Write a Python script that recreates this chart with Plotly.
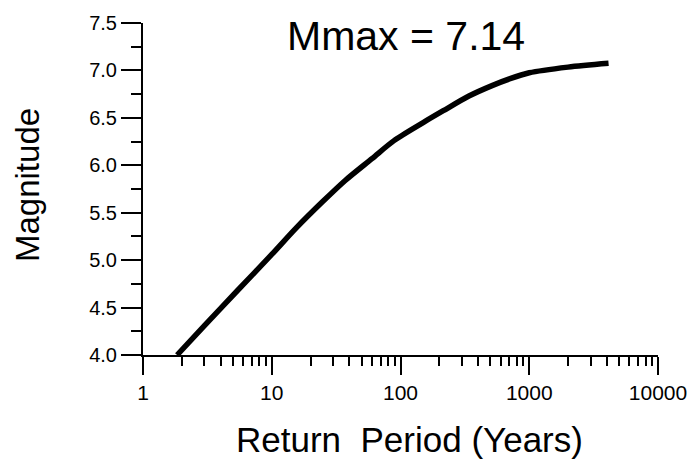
import plotly.graph_objects as go

# Data
return_period = [1.84, 3, 5.42, 10, 15.5, 25, 37.2, 60, 89, 150, 215, 340, 514, 700, 1000, 2000, 4130]
magnitude = [4.00, 4.31, 4.68, 5.06, 5.34, 5.62, 5.84, 6.07, 6.26, 6.45, 6.575, 6.73, 6.84, 6.91, 6.975, 7.035, 7.075]

x_tickvals = [1, 10, 100, 1000, 10000]
x_ticktext = ["1", "10", "100", "1000", "10000"]
y_tickvals = [4.0, 4.5, 5.0, 5.5, 6.0, 6.5, 7.0, 7.5]
y_ticktext = ["4.0", "4.5", "5.0", "5.5", "6.0", "6.5", "7.0", "7.5"]

title_text = "Mmax = 7.14"
x_title = "Return  Period (Years)"
y_title = "Magnitude"

W, H = 699, 469
L, R, T, B = 143, 30, 20, 114

fig = go.Figure()
fig.add_trace(go.Scatter(
    x=return_period, y=magnitude, mode="lines",
    line=dict(color="black", width=5.5, shape="spline", smoothing=0.8),
    showlegend=False, hoverinfo="skip",
))

font_main = "Liberation Sans, Arial, sans-serif"

fig.update_layout(
    width=W, height=H,
    margin=dict(l=L, r=R, t=T, b=B, pad=0),
    paper_bgcolor="white", plot_bgcolor="white",
    xaxis=dict(
        type="log", range=[0, 4],
        tickvals=x_tickvals, ticktext=x_ticktext,
        ticks="outside", ticklen=18, tickwidth=2, tickcolor="black",
        minor=dict(ticks="outside", ticklen=9, tickwidth=2, tickcolor="black", dtick="D1", showgrid=False),
        showline=True, linecolor="black", linewidth=2,
        showgrid=False, zeroline=False,
        ticklabeloverflow="allow",
        tickfont=dict(family=font_main, size=21, color="black"),
    ),
    yaxis=dict(
        range=[4.0, 7.5],
        tickvals=y_tickvals, ticktext=y_ticktext,
        ticks="outside", ticklen=20, tickwidth=2, tickcolor="black",
        minor=dict(ticks="outside", ticklen=10, tickwidth=2, tickcolor="black", dtick=0.25, showgrid=False),
        showline=True, linecolor="black", linewidth=2,
        showgrid=False, zeroline=False,
        tickfont=dict(family=font_main, size=20, color="black"),
    ),
    annotations=[
        dict(text=title_text, xref="paper", yref="paper",
             x=(412 - L) / (W - L - R), y=(H - B - 33) / (H - T - B),
             xanchor="center", yanchor="middle", showarrow=False,
             font=dict(family=font_main, size=41, color="black")),
        dict(text=y_title, xref="paper", yref="paper",
             x=(25 - L) / (W - L - R), y=(H - B - 183) / (H - T - B),
             xanchor="center", yanchor="middle", showarrow=False, textangle=-90,
             font=dict(family=font_main, size=33, color="black")),
        dict(text=x_title, xref="paper", yref="paper",
             x=(415 - L) / (W - L - R), y=(H - B - 440) / (H - T - B),
             xanchor="center", yanchor="middle", showarrow=False,
             font=dict(family=font_main, size=35, color="black")),
    ],
)

fig.write_html(
    "out.html",
    config={"displayModeBar": False},
    post_script="document.body.style.margin='0';document.body.style.overflow='hidden';",
)
